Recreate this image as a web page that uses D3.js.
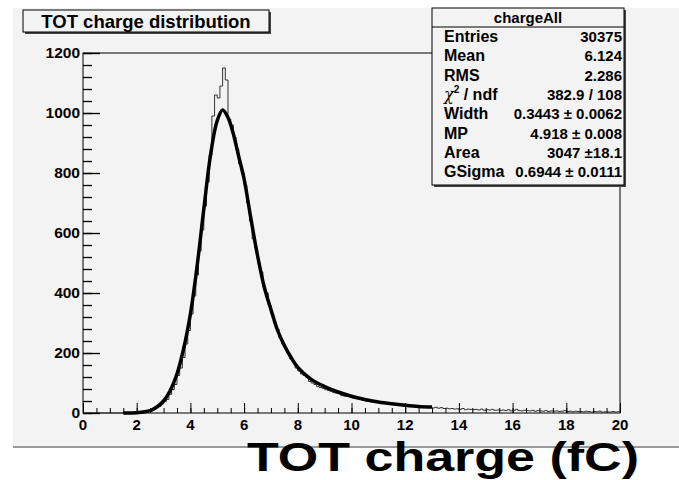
<!DOCTYPE html>
<html>
<head>
<meta charset="utf-8">
<script src="https://cdn.jsdelivr.net/npm/d3@7"></script>
<style>
body { margin: 0; background: #fff; }
text { font-family: "Liberation Sans", Arial, sans-serif; font-weight: bold; }
</style>
</head>
<body>
<div class="chart"></div>
<script>
'use strict';

// histogram counts, 200 bins of 0.1 fC from 0 to 20
const counts = [
  0,0,0,0,0,0,0,0,0,0,0,0,0,0,0,
  0,1,1,2,2,3,3,5,6,8,
  10,12,18,22,30,38,45,62,78,95,
  125,150,185,230,275,330,390,460,540,610,
  690,770,860,990,1060,1050,1090,1150,1110,980,
  960,920,880,830,800,760,700,640,580,550,
  500,470,420,400,360,330,300,280,250,230,
  215,200,180,170,150,140,130,125,118,105,
  100,95,88,85,82,78,75,72,68,66,
  64,58,56,55,54,50,48,52,45,42,
  40,42,38,36,35,36,33,32,30,29,
  28,30,27,26,25,27,24,22,23,21,
  22,20,19,21,18,17,19,16,18,15,
  16,14,15,13,14,12,15,11,13,12,
  11,12,10,13,9,11,10,12,9,10,
  9,10,8,11,7,9,12,8,7,9,
  8,7,9,6,8,7,6,8,5,7,
  6,7,5,6,8,5,6,4,6,5,
  5,4,6,5,3,5,4,6,3,4,
  4,3,5,3,4
];
const binWidth = 0.1;

// fit curve (Landau x Gaussian)
const fitX = [1.5,2,2.5,2.75,3,3.25,3.5,3.75,4,4.25,4.5,4.75,5,5.2,5.4,5.6,5.8,6,6.25,6.5,6.75,7,7.25,7.5,7.75,8,8.5,9,9.5,10,10.5,11,11.5,12,12.5,13];
const fitY = [0,1,8,20,40,75,130,215,330,490,680,860,975,1010,985,930,855,780,650,525,420,345,275,225,185,152,112,88,70,56,45,37,31,26,22,20];

const xTicks = [0,2,4,6,8,10,12,14,16,18,20];
const yTicks = [0,200,400,600,800,1000,1200];

const statsLabels = ['Entries','Mean','RMS','chi2','Width','MP','Area','GSigma'];
const statsValues = ['30375','6.124','2.286','382.9 / 108','0.3443 \u00b1 0.0062','4.918 \u00b1 0.008','3047 \u00b118.1','0.6944 \u00b1 0.0111'];

const W = 679, H = 480;
const plot = {left: 83, right: 620, top: 53, bottom: 413};

const svg = d3.select('.chart').append('svg')
  .attr('width', W).attr('height', H);

// canvas background
svg.append('rect').attr('x', 13).attr('y', 8).attr('width', W - 13).attr('height', 439)
  .attr('fill', '#f3f3f3');
svg.append('line').attr('x1', 13).attr('x2', W).attr('y1', 447).attr('y2', 447)
  .attr('stroke', '#999').attr('stroke-width', 2);

const x = d3.scaleLinear().domain([0, 20]).range([plot.left, plot.right]);
const y = d3.scaleLinear().domain([0, 1200]).range([plot.bottom, plot.top]);

// frame
svg.append('rect').attr('x', plot.left).attr('y', plot.top)
  .attr('width', plot.right - plot.left).attr('height', plot.bottom - plot.top)
  .attr('fill', 'none').attr('stroke', '#000').attr('stroke-width', 1);

// histogram as step line
const steps = [];
counts.forEach((c, i) => {
  steps.push([i * binWidth, c]);
  steps.push([(i + 1) * binWidth, c]);
});
svg.append('path')
  .attr('d', d3.line().x(d => x(d[0])).y(d => y(d[1]))(steps))
  .attr('fill', 'none').attr('stroke', '#333').attr('stroke-width', 1);

// fit
svg.append('path')
  .attr('d', d3.line().curve(d3.curveCatmullRom).x(d => x(d[0])).y(d => y(d[1]))(fitX.map((v, i) => [v, fitY[i]])))
  .attr('fill', 'none').attr('stroke', '#000').attr('stroke-width', 3.5);

// x axis ticks (major 2, minor 0.5)
const xAxis = svg.append('g').attr('transform', `translate(0,${plot.bottom})`);
xAxis.call(d3.axisTop(x).tickValues(d3.range(0, 20.01, 0.5)).tickSize(5).tickFormat(''))
  .call(g => g.select('.domain').remove());
xAxis.append('g').call(d3.axisTop(x).tickValues(xTicks).tickSize(10).tickFormat(''))
  .call(g => g.select('.domain').remove());
xAxis.selectAll('.tick line').attr('stroke', '#000');
svg.selectAll('.xlab').data(xTicks).enter().append('text')
  .attr('x', d => x(d)).attr('y', plot.bottom + 17)
  .attr('text-anchor', 'middle').attr('font-size', 15).text(d => d);

// y axis ticks (major 200, minor 40)
const yAxis = svg.append('g').attr('transform', `translate(${plot.left},0)`);
yAxis.call(d3.axisRight(y).tickValues(d3.range(0, 1201, 40)).tickSize(9).tickFormat(''))
  .call(g => g.select('.domain').remove());
yAxis.append('g').call(d3.axisRight(y).tickValues(yTicks).tickSize(17).tickFormat(''))
  .call(g => g.select('.domain').remove());
yAxis.selectAll('.tick line').attr('stroke', '#000').attr('stroke-width', 1.3);
svg.selectAll('.ylab').data(yTicks).enter().append('text')
  .attr('x', plot.left - 3).attr('y', d => y(d) + 5)
  .attr('text-anchor', 'end').attr('font-size', 15.5).text(d => d);

// title box
svg.append('rect').attr('x', 25).attr('y', 12).attr('width', 246).attr('height', 22)
  .attr('fill', '#444');
svg.append('rect').attr('x', 23).attr('y', 10).attr('width', 246).attr('height', 22)
  .attr('fill', '#f3f3f3').attr('stroke', '#000');
svg.append('text').attr('x', 146).attr('y', 28).attr('text-anchor', 'middle')
  .attr('font-size', 18.5).text('TOT charge distribution');

// stats box
const sb = {x: 432, y: 8, w: 192, h: 177};
svg.append('rect').attr('x', sb.x + 2).attr('y', sb.y + 2).attr('width', sb.w).attr('height', sb.h)
  .attr('fill', '#444');
svg.append('rect').attr('x', sb.x).attr('y', sb.y).attr('width', sb.w).attr('height', sb.h)
  .attr('fill', '#f3f3f3').attr('stroke', '#000');
svg.append('line').attr('x1', sb.x).attr('x2', sb.x + sb.w).attr('y1', 27).attr('y2', 27)
  .attr('stroke', '#000');
svg.append('text').attr('x', sb.x + sb.w / 2).attr('y', 23).attr('text-anchor', 'middle')
  .attr('font-size', 15).text('chargeAll');
const rowY = i => 42 + i * 19.3;
statsLabels.forEach((lab, i) => {
  const t = svg.append('text').attr('x', sb.x + 12).attr('y', rowY(i)).attr('font-size', 16);
  if (lab === 'chi2') {
    t.append('tspan').attr('font-family', 'DejaVu Serif').attr('font-style', 'italic').attr('font-weight', 'normal').text('\u03c7');
    t.append('tspan').attr('font-size', 10).attr('dy', -7).text('2');
    t.append('tspan').attr('dy', 7).text(' / ndf');
  } else {
    t.text(lab);
  }
  svg.append('text').attr('x', sb.x + sb.w - 2).attr('y', rowY(i))
    .attr('text-anchor', 'end').attr('font-size', 15).text(statsValues[i]);
});

// axis title
svg.append('text').attr('x', 443).attr('y', 471).attr('text-anchor', 'middle')
  .attr('font-size', 40).attr('textLength', 392).attr('lengthAdjust', 'spacingAndGlyphs')
  .text('TOT charge (fC)');
</script>
</body>
</html>
